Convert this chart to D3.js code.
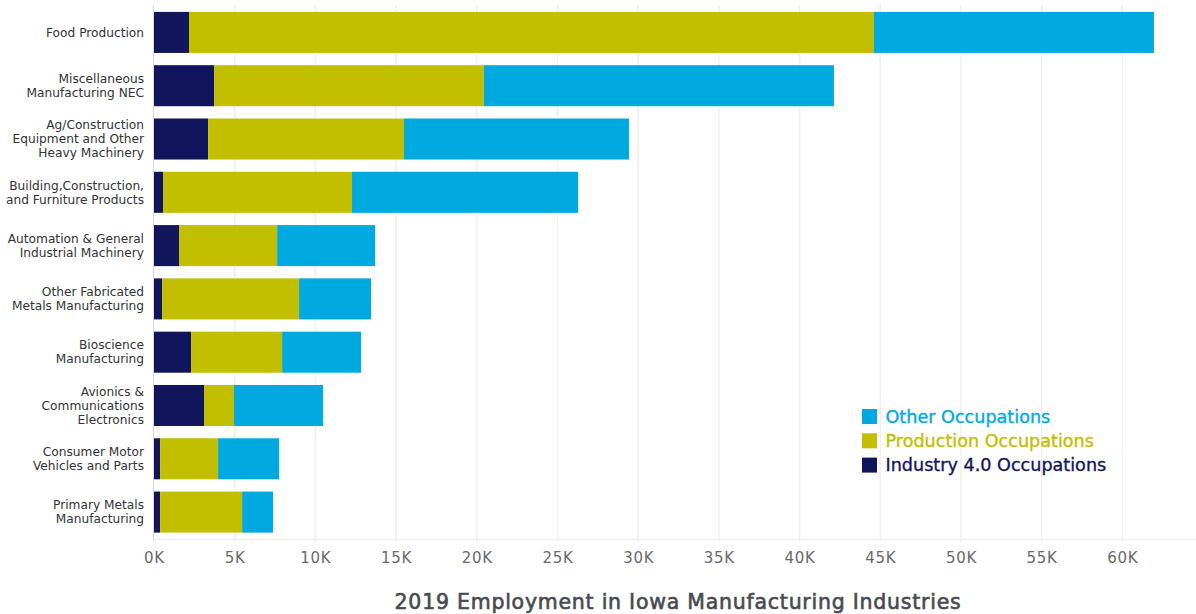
<!DOCTYPE html>
<html>
<head>
<meta charset="utf-8">
<script src="https://cdn.jsdelivr.net/npm/d3@7/dist/d3.min.js"></script>
<style>
  html, body { margin: 0; padding: 0; background: #fff; }
  svg { display: block; font-family: "DejaVu Sans", sans-serif; }
</style>
</head>
<body>
<svg id="chart" width="1196" height="614"></svg>
<script>
// Industry groups, top to bottom; "\n" splits a label into lines
const categories = [
  "Food Production",
  "Miscellaneous\nManufacturing NEC",
  "Ag/Construction\nEquipment and Other\nHeavy Machinery",
  "Building,Construction,\nand Furniture Products",
  "Automation & General\nIndustrial Machinery",
  "Other Fabricated\nMetals Manufacturing",
  "Bioscience\nManufacturing",
  "Avionics &\nCommunications\nElectronics",
  "Consumer Motor\nVehicles and Parts",
  "Primary Metals\nManufacturing"
];

// 2019 employment per occupation group (stacked left to right)
const industry40 = [2170, 3730, 3350, 560, 1550, 500, 2300, 3100, 380, 380];
const production = [42440, 16710, 12140, 11710, 6080, 8490, 5640, 1860, 3590, 5080];
const other      = [17350, 21690, 13940, 14010, 6070, 4460, 4890, 5520, 3780, 1920];

const seriesNames = ["Industry 4.0 Occupations", "Production Occupations", "Other Occupations"];
const seriesColors = ["#11165c", "#c2be00", "#00a9e0"];
const legendOrder = ["Other Occupations", "Production Occupations", "Industry 4.0 Occupations"];

const xTicks = [0, 5000, 10000, 15000, 20000, 25000, 30000, 35000, 40000, 45000, 50000, 55000, 60000];
const title = "2019 Employment in Iowa Manufacturing Industries";

const W = 1196, H = 614;
const svg = d3.select("#chart");

const rows = categories.map((c, i) => ({
  category: c,
  "Industry 4.0 Occupations": industry40[i],
  "Production Occupations": production[i],
  "Other Occupations": other[i]
}));

const stacked = d3.stack().keys(seriesNames)(rows);

const x = d3.scaleLinear().domain([0, 65000]).range([154, 1203]);
const y = d3.scaleBand().domain(categories).range([5.5, 539])
  .paddingInner(0.23).paddingOuter(0.12);
const color = d3.scaleOrdinal().domain(seriesNames).range(seriesColors);

// vertical gridlines
svg.append("g")
  .selectAll("line")
  .data(xTicks.slice(1))
  .join("line")
  .attr("x1", d => x(d)).attr("x2", d => x(d))
  .attr("y1", 5).attr("y2", 542)
  .attr("stroke", "#efefef")
  .attr("stroke-width", 1.5);

// baseline under the bars
svg.append("line")
  .attr("x1", x(0)).attr("x2", W)
  .attr("y1", 539.5).attr("y2", 539.5)
  .attr("stroke", "#efefef")
  .attr("stroke-width", 1.5);

// stacked bars
svg.append("g")
  .selectAll("g")
  .data(stacked)
  .join("g")
  .attr("fill", d => color(d.key))
  .selectAll("rect")
  .data(d => d)
  .join("rect")
  .attr("x", d => x(d[0]))
  .attr("y", d => y(d.data.category))
  .attr("width", d => x(d[1]) - x(d[0]))
  .attr("height", y.bandwidth());

// left axis line
svg.append("line")
  .attr("x1", 153.5).attr("x2", 153.5)
  .attr("y1", 5).attr("y2", 542)
  .attr("stroke", "#c8c8d0")
  .attr("stroke-opacity", 0.7)
  .attr("stroke-width", 1);

// x axis tick labels
const xAxis = d3.axisBottom(x)
  .tickValues(xTicks)
  .tickFormat(d => (d / 1000) + "K")
  .tickSize(0)
  .tickPadding(0);
const gx = svg.append("g").attr("transform", "translate(0,552.5)").call(xAxis);
gx.select(".domain").remove();
gx.selectAll("text")
  .attr("fill", "#6a6a6a")
  .attr("font-size", 15)
  .attr("font-family", "'DejaVu Sans', sans-serif")
  .attr("letter-spacing", "0.7px")
  .attr("dy", "0.71em");

// category labels (multi-line, right aligned)
const lineH = 14;
const yAxis = svg.append("g");
categories.forEach(c => {
  const lines = c.split("\n");
  const cy = y(c) + y.bandwidth() / 2;
  const t = yAxis.append("text")
    .attr("text-anchor", "end")
    .attr("x", 144)
    .attr("fill", "#333")
    .attr("font-size", 12.2);
  lines.forEach((ln, j) => {
    t.append("tspan")
      .attr("x", 144)
      .attr("y", cy + (j - (lines.length - 1) / 2) * lineH)
      .attr("dy", "0.35em")
      .text(ln);
  });
});

// legend
const legend = svg.append("g");
legendOrder.forEach((name, i) => {
  const ly = 416.5 + i * 24.3;
  legend.append("rect")
    .attr("x", 862).attr("y", ly - 7.5)
    .attr("width", 15).attr("height", 15)
    .attr("fill", color(name));
  legend.append("text")
    .attr("x", 885.5).attr("y", ly)
    .attr("dy", "0.36em")
    .attr("fill", color(name))
    .attr("stroke", color(name))
    .attr("stroke-width", 0.35)
    .attr("font-size", 17.6)
    .text(name);
});

// chart title
svg.append("text")
  .attr("x", 678).attr("y", 609)
  .attr("text-anchor", "middle")
  .attr("fill", "#474a4f")
  .attr("stroke", "#474a4f")
  .attr("stroke-width", 0.6)
  .attr("font-size", 20.5)
  .attr("letter-spacing", "0.75px")
  .text(title);
</script>
</body>
</html>
